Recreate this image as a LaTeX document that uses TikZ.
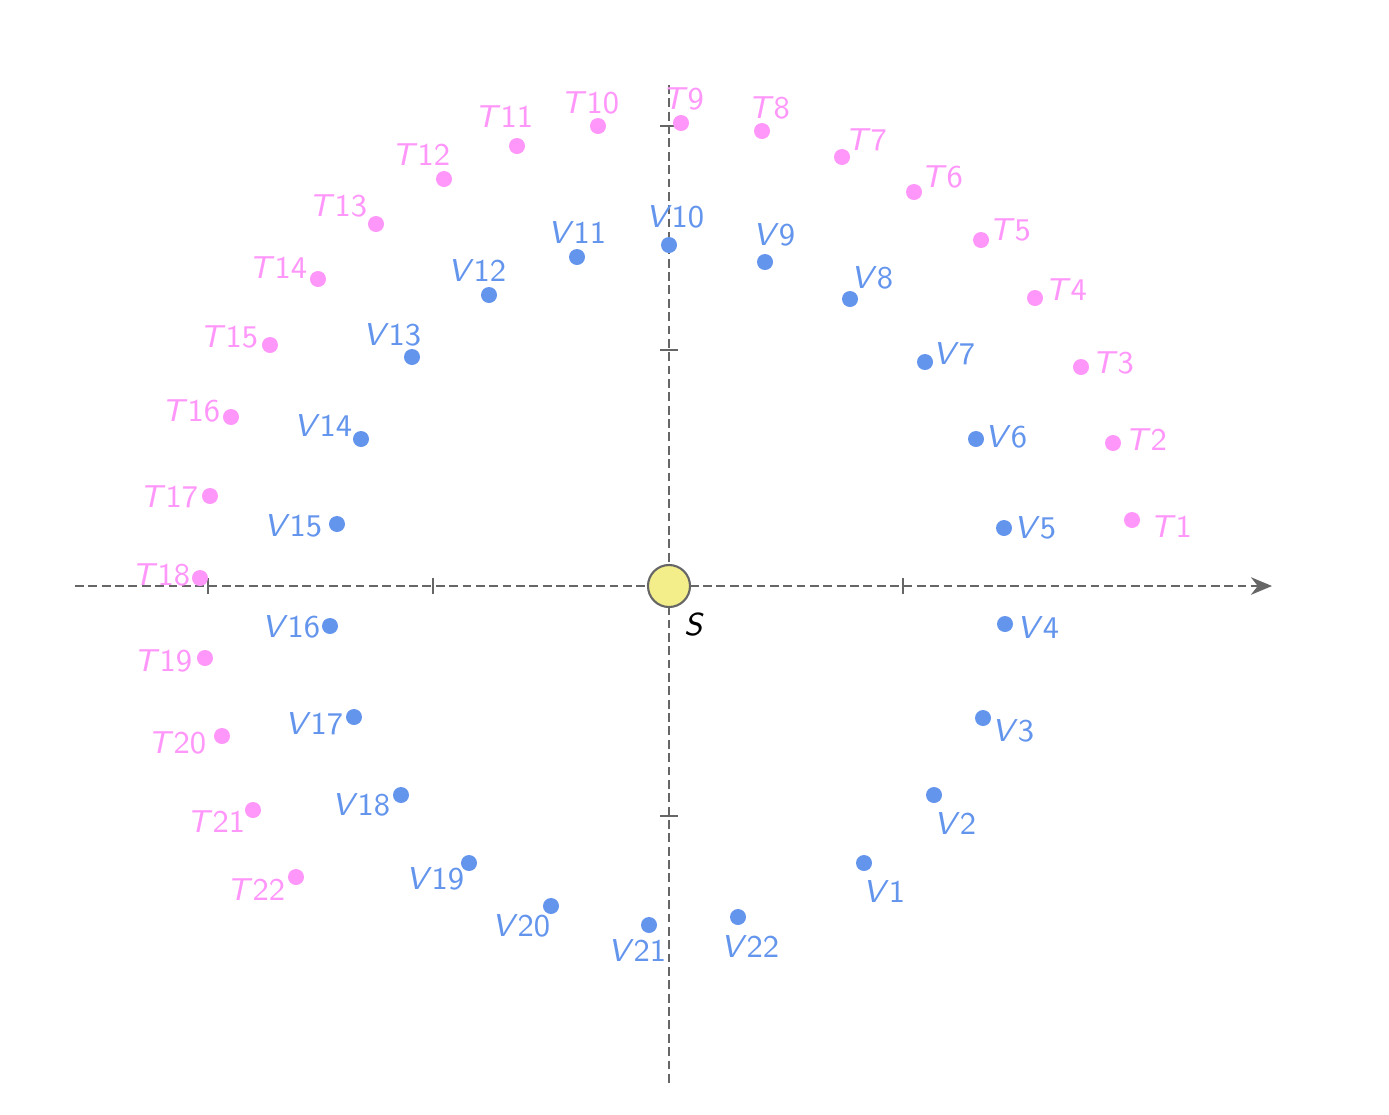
\documentclass[tikz,border=0pt]{standalone}
\usetikzlibrary{arrows.meta}
\definecolor{tpink}{RGB}{255,150,250}
\definecolor{vblue}{RGB}{100,149,237}
\definecolor{sunfill}{RGB}{243,238,138}
\definecolor{axisgray}{RGB}{102,102,102}
\tikzset{
  axis/.style={draw=axisgray, line width=0.6pt, dash pattern=on 2.5pt off 1.3pt},
  tick/.style={draw=axisgray, line width=0.6pt},
  tdot/.style={circle, fill=tpink, inner sep=0pt, minimum size=0.16cm},
  vdot/.style={circle, fill=vblue, inner sep=0pt, minimum size=0.16cm},
  tlab/.style={text=tpink, font=\sffamily\small, inner sep=0pt},
  vlab/.style={text=vblue, font=\sffamily\small, inner sep=0pt},
}
\begin{document}
\begin{tikzpicture}[x=0.01cm, y=0.01cm]
\useasboundingbox (-669,-528) rectangle (720,586);
% axes
\coordinate (xl) at (-594,0);
\coordinate (xr) at (603,0);
\coordinate (yt) at (0,501);
\coordinate (yb) at (0,-499);
\path[axis, -{Stealth[length=6pt, width=5pt]}] (xl) -- (xr);
\path[axis] (yt) -- (yb);
% ticks
\path[tick] (-461,-8) -- (-461,8);
\path[tick] (-236,-8) -- (-236,8);
\path[tick] (234,-8) -- (234,8);
\path[tick] (-9,460) -- (9,460);
\path[tick] (-9,236) -- (9,236);
\path[tick] (-9,-230) -- (9,-230);
% sun
\node[circle, draw=axisgray, fill=sunfill, line width=0.6pt, inner sep=0pt, minimum size=0.42cm] (s) at (0,0) {};
\node[font=\sffamily\small, inner sep=0pt] (sl) at (25,-38) {\textit{S}};
% T points
\node[tdot] (t1) at (463,66) {};     \node[tlab] (t1l) at (502,59) {\textit{T}1};
\node[tdot] (t2) at (444,143) {};    \node[tlab] (t2l) at (477,146) {\textit{T}2};
\node[tdot] (t3) at (412,219) {};    \node[tlab] (t3l) at (444,223) {\textit{T}3};
\node[tdot] (t4) at (366,288) {};    \node[tlab] (t4l) at (397,296) {\textit{T}4};
\node[tdot] (t5) at (312,346) {};    \node[tlab] (t5l) at (341,356) {\textit{T}5};
\node[tdot] (t6) at (245,394) {};    \node[tlab] (t6l) at (273,409) {\textit{T}6};
\node[tdot] (t7) at (173,429) {};    \node[tlab] (t7l) at (197,446) {\textit{T}7};
\node[tdot] (t8) at (93,455) {};     \node[tlab] (t8l) at (100,478) {\textit{T}8};
\node[tdot] (t9) at (12,463) {};     \node[tlab] (t9l) at (14,487) {\textit{T}9};
\node[tdot] (t10) at (-71,460) {};   \node[tlab] (t10l) at (-79,483) {\textit{T}10};
\node[tdot] (t11) at (-152,440) {};  \node[tlab] (t11l) at (-165,469) {\textit{T}11};
\node[tdot] (t12) at (-225,407) {};  \node[tlab] (t12l) at (-248,431) {\textit{T}12};
\node[tdot] (t13) at (-293,362) {};  \node[tlab] (t13l) at (-331,380) {\textit{T}13};
\node[tdot] (t14) at (-351,307) {};  \node[tlab] (t14l) at (-391,318) {\textit{T}14};
\node[tdot] (t15) at (-399,241) {};  \node[tlab] (t15l) at (-440,249) {\textit{T}15};
\node[tdot] (t16) at (-438,169) {};  \node[tlab] (t16l) at (-478,175) {\textit{T}16};
\node[tdot] (t17) at (-459,90) {};   \node[tlab] (t17l) at (-500,89) {\textit{T}17};
\node[tdot] (t18) at (-469,8) {};    \node[tlab] (t18l) at (-508,11) {\textit{T}18};
\node[tdot] (t19) at (-464,-72) {};  \node[tlab] (t19l) at (-506,-75) {\textit{T}19};
\node[tdot] (t20) at (-447,-150) {}; \node[tlab] (t20l) at (-492,-157) {\textit{T}20};
\node[tdot] (t21) at (-416,-224) {}; \node[tlab] (t21l) at (-453,-236) {\textit{T}21};
\node[tdot] (t22) at (-373,-291) {}; \node[tlab] (t22l) at (-413,-304) {\textit{T}22};
% V points
\node[vdot] (v1) at (195,-277) {};   \node[vlab] (v1l) at (215,-305) {\textit{V}1};
\node[vdot] (v2) at (265,-209) {};   \node[vlab] (v2l) at (286,-237) {\textit{V}2};
\node[vdot] (v3) at (314,-132) {};   \node[vlab] (v3l) at (344,-145) {\textit{V}3};
\node[vdot] (v4) at (336,-38) {};    \node[vlab] (v4l) at (369,-41) {\textit{V}4};
\node[vdot] (v5) at (335,58) {};     \node[vlab] (v5l) at (366,58) {\textit{V}5};
\node[vdot] (v6) at (307,147) {};    \node[vlab] (v6l) at (337,149) {\textit{V}6};
\node[vdot] (v7) at (256,224) {};    \node[vlab] (v7l) at (285,232) {\textit{V}7};
\node[vdot] (v8) at (181,287) {};    \node[vlab] (v8l) at (203,308) {\textit{V}8};
\node[vdot] (v9) at (96,324) {};     \node[vlab] (v9l) at (105,351) {\textit{V}9};
\node[vdot] (v10) at (0,341) {};     \node[vlab] (v10l) at (6,369) {\textit{V}10};
\node[vdot] (v11) at (-92,329) {};   \node[vlab] (v11l) at (-92,353) {\textit{V}11};
\node[vdot] (v12) at (-180,291) {};  \node[vlab] (v12l) at (-192,315) {\textit{V}12};
\node[vdot] (v13) at (-257,229) {};  \node[vlab] (v13l) at (-277,251) {\textit{V}13};
\node[vdot] (v14) at (-308,147) {};  \node[vlab] (v14l) at (-346,160) {\textit{V}14};
\node[vdot] (v15) at (-332,62) {};   \node[vlab] (v15l) at (-376,60) {\textit{V}15};
\node[vdot] (v16) at (-339,-40) {};  \node[vlab] (v16l) at (-378,-41) {\textit{V}16};
\node[vdot] (v17) at (-315,-131) {}; \node[vlab] (v17l) at (-355,-138) {\textit{V}17};
\node[vdot] (v18) at (-268,-209) {}; \node[vlab] (v18l) at (-308,-219) {\textit{V}18};
\node[vdot] (v19) at (-200,-277) {}; \node[vlab] (v19l) at (-234,-293) {\textit{V}19};
\node[vdot] (v20) at (-118,-320) {}; \node[vlab] (v20l) at (-148,-340) {\textit{V}20};
\node[vdot] (v21) at (-20,-339) {};  \node[vlab] (v21l) at (-32,-364) {\textit{V}21};
\node[vdot] (v22) at (69,-331) {};   \node[vlab] (v22l) at (81,-360) {\textit{V}22};
\end{tikzpicture}
\end{document}
